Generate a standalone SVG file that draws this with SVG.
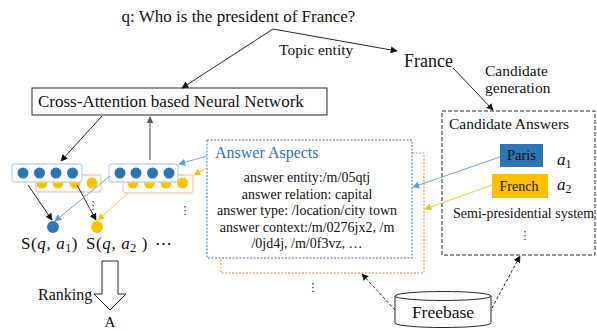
<svg xmlns="http://www.w3.org/2000/svg" width="597" height="331" viewBox="0 0 597 331">
<style>
text{font-family:"Liberation Serif","Times New Roman",serif;fill:#111}
.t17{font-size:17px}
.t15{font-size:15.5px}
.t14{font-size:14px}
.it{font-style:italic}
.ln{fill:none;stroke:#111;stroke-width:0.9}
.bl{fill:none;stroke:#5b9bd5;stroke-width:0.9}
.yl{fill:none;stroke:#ffc000;stroke-width:0.9}
.dsh{fill:none;stroke:#111;stroke-width:0.9;stroke-dasharray:3,2}
.bc{fill:#2e75b6}
.yc{fill:#ffc000}
.bbox{fill:#fff;stroke:#bdd7ee;stroke-width:1.3}
.obox{fill:#fff;stroke:#f8cbad;stroke-width:1.3}
.dots{font-family:"DejaVu Sans",sans-serif;font-size:11px;text-anchor:middle}
</style>
<defs>
<marker id="ak" viewBox="0 0 10 10" refX="9" refY="5" markerWidth="7" markerHeight="7" orient="auto" markerUnits="userSpaceOnUse"><path d="M0,0L10,5L0,10z" fill="#111"/></marker>
<marker id="ag" viewBox="0 0 10 10" refX="9" refY="5" markerWidth="7" markerHeight="7" orient="auto" markerUnits="userSpaceOnUse"><path d="M0,0L10,5L0,10z" fill="#555"/></marker>
<marker id="ab" viewBox="0 0 10 10" refX="9" refY="5" markerWidth="7" markerHeight="7" orient="auto" markerUnits="userSpaceOnUse"><path d="M0,0L10,5L0,10z" fill="#5b9bd5"/></marker>
<marker id="ay" viewBox="0 0 10 10" refX="9" refY="5" markerWidth="7" markerHeight="7" orient="auto" markerUnits="userSpaceOnUse"><path d="M0,0L10,5L0,10z" fill="#ffc000"/></marker>
</defs>
<rect width="597" height="331" fill="#fff"/>

<g id="question">
<text class="t17" x="238.5" y="22" text-anchor="middle">q: Who is the president of France?</text>
</g>
<g id="topic-label"><text class="t15" x="279" y="55">Topic entity</text></g>
<g id="france"><text x="404" y="67" font-size="18">France</text></g>
<g id="candgen-label">
<text class="t15" x="485" y="76">Candidate</text>
<text class="t15" x="485" y="93">generation</text>
</g>

<g id="nn">
<rect x="32" y="88" width="295" height="27" fill="#fff" stroke="#111" stroke-width="0.9"/>
<text class="t17" x="38" y="107">Cross-Attention based Neural Network</text>
</g>

<g id="group1">
<rect class="obox" x="36" y="175" width="65" height="17" rx="3"/>
<circle class="yc" cx="42" cy="183" r="5.5"/>
<circle class="yc" cx="58" cy="183" r="5.5"/>
<circle class="yc" cx="75" cy="183" r="5.5"/>
<circle class="yc" cx="92" cy="183" r="5.5"/>
<rect class="bbox" x="12" y="164" width="70" height="18" rx="3"/>
<circle class="bc" cx="23" cy="173" r="5.5"/>
<circle class="bc" cx="39.5" cy="173" r="5.5"/>
<circle class="bc" cx="56" cy="173" r="5.5"/>
<circle class="bc" cx="72.5" cy="173" r="5.5"/>
<text class="dots" x="93" y="209">⋮</text>
</g>

<g id="group2">
<rect class="obox" x="123" y="175" width="70" height="18" rx="3"/>
<circle class="yc" cx="133" cy="183" r="5.5"/>
<circle class="yc" cx="149.5" cy="183" r="5.5"/>
<circle class="yc" cx="166" cy="183" r="5.5"/>
<circle class="yc" cx="182.5" cy="183" r="5.5"/>
<rect class="bbox" x="109" y="164" width="69" height="18" rx="3"/>
<circle class="bc" cx="120" cy="173" r="5.5"/>
<circle class="bc" cx="136" cy="173" r="5.5"/>
<circle class="bc" cx="152.5" cy="173" r="5.5"/>
<circle class="bc" cx="169" cy="173" r="5.5"/>
<text class="dots" x="185" y="214">⋮</text>
</g>

<g id="score1">
<circle class="bc" cx="53" cy="227" r="6"/>
<text class="t17" x="21" y="249" letter-spacing="0.6">S(<tspan class="it">q</tspan>, <tspan class="it">a</tspan><tspan font-size="12" dy="3">1</tspan><tspan dy="-3">)</tspan></text>
</g>
<g id="score2">
<circle class="yc" cx="97" cy="227" r="6"/>
<text class="t17" x="86" y="249" letter-spacing="0.6">S(<tspan class="it">q</tspan>, <tspan class="it">a</tspan><tspan font-size="12" dy="3">2</tspan><tspan dy="-3"> )</tspan></text>
<text class="t17" x="155" y="249">⋯</text>
</g>

<g id="ranking">
<path d="M102,261H118V294H126L110,310L94,294H102Z" fill="#fff" stroke="#111" stroke-width="0.9"/>
<text x="38" y="300" font-size="16">Ranking</text>
<text x="110" y="327" font-size="15" text-anchor="middle">A</text>
</g>

<g id="answer-aspects">
<path d="M412,153H424V273H221V258" fill="none" stroke="#ed7d31" stroke-width="1" stroke-dasharray="2,1.5"/>
<rect x="207" y="140" width="205" height="118" fill="#fff" stroke="#2e75b6" stroke-width="1" stroke-dasharray="2,1.5"/>
<text x="215" y="158" font-size="16" style="fill:#2e75b6">Answer Aspects</text>
<text class="t14" x="307" y="182" text-anchor="middle">answer entity:/m/05qtj</text>
<text class="t14" x="307" y="198.5" text-anchor="middle">answer relation: capital</text>
<text class="t14" x="307" y="215" text-anchor="middle">answer type: /location/city town</text>
<text class="t14" x="307" y="231.5" text-anchor="middle">answer context:/m/0276jx2, /m</text>
<text class="t14" x="307" y="248" text-anchor="middle">/0jd4j,  /m/0f3vz, …</text>
<text class="dots" x="313" y="291">⋮</text>
</g>

<g id="candidate-answers">
<rect x="442" y="111" width="153" height="144" fill="none" stroke="#111" stroke-width="0.9" stroke-dasharray="4,2"/>
<text class="t15" x="449" y="129">Candidate Answers</text>
<rect x="500" y="144" width="43" height="23" fill="#2e75b6"/>
<text x="521.5" y="160" font-size="14.5" text-anchor="middle">Paris</text>
<rect x="492" y="174" width="56" height="24" fill="#ffc000"/>
<text class="t14" x="519" y="191" text-anchor="middle">French</text>
<text class="t17 it" x="557" y="165">a<tspan font-size="12" font-style="normal" dy="3">1</tspan></text>
<text class="t17 it" x="557" y="190">a<tspan font-size="12" font-style="normal" dy="3">2</tspan></text>
<text class="t14" x="453" y="218">Semi-presidential system</text>
<text class="dots" x="525" y="239">⋮</text>
</g>

<g id="freebase">
<path d="M395,296V323A48,4.5 0 0 0 491,323V296" fill="#fff" stroke="#111" stroke-width="0.9"/>
<ellipse cx="443" cy="296" rx="48" ry="4.5" fill="#fff" stroke="#111" stroke-width="0.9"/>
<text x="443" y="318" font-size="17.5" text-anchor="middle">Freebase</text>
</g>

<g id="connectors">
<line class="ln" x1="273" y1="29" x2="182" y2="88" marker-end="url(#ak)"/>
<line class="ln" x1="273" y1="29" x2="397" y2="51" marker-end="url(#ak)"/>
<line class="ln" x1="453" y1="68" x2="493" y2="110" marker-end="url(#ak)"/>
<line class="ln" x1="102" y1="116" x2="61" y2="161" marker-end="url(#ak)"/>
<line x1="150" y1="160" x2="150" y2="117" stroke="#555" stroke-width="1.1" marker-end="url(#ag)"/>
<line class="ln" x1="28" y1="185" x2="52" y2="220" marker-end="url(#ak)"/>
<line class="ln" x1="77" y1="185" x2="96" y2="220" marker-end="url(#ak)"/>
<line class="bl" x1="110" y1="176" x2="55" y2="221" marker-end="url(#ab)"/>
<line class="yl" x1="128" y1="193" x2="98" y2="220" marker-end="url(#ay)"/>
<line class="bl" x1="207" y1="156" x2="179" y2="164" marker-end="url(#ab)"/>
<line class="yl" x1="207" y1="168" x2="194" y2="175" marker-end="url(#ay)"/>
<line class="bl" x1="500" y1="157" x2="413" y2="187" marker-end="url(#ab)"/>
<line class="yl" x1="492" y1="185" x2="425" y2="209" marker-end="url(#ay)"/>
<line class="dsh" x1="395" y1="310" x2="362" y2="274" marker-end="url(#ak)"/>
<line class="dsh" x1="492" y1="308" x2="520" y2="256" marker-end="url(#ak)"/>
</g>
</svg>
